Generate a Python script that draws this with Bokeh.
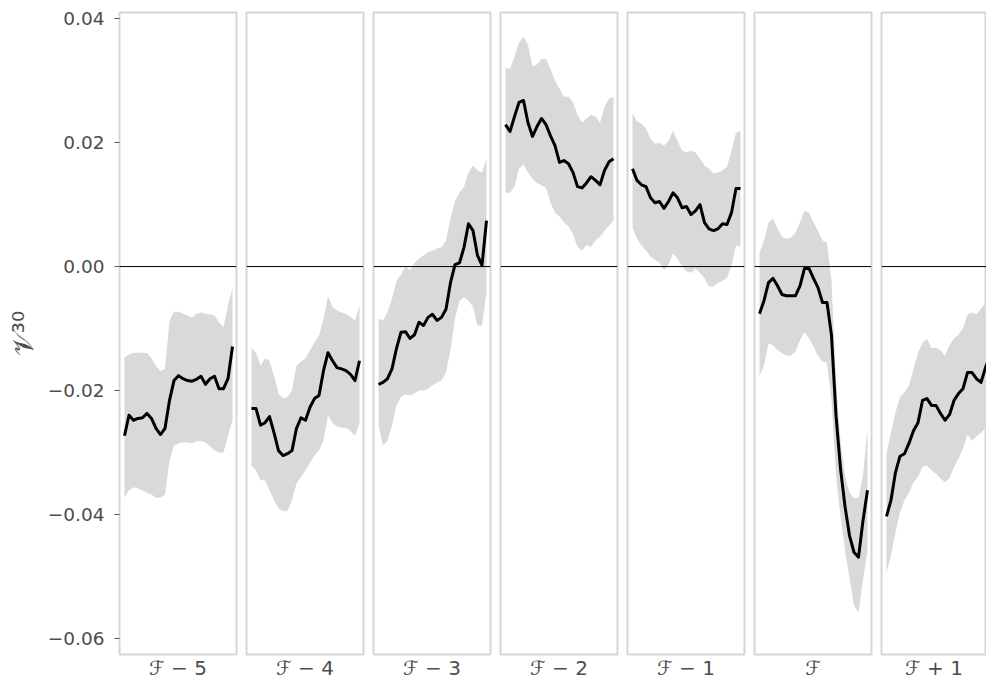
from bokeh.plotting import figure
from bokeh.layouts import row
from bokeh.models import Span, FixedTicker, CustomJSTickFormatter, Range1d
from bokeh.embed import file_html
from bokeh.resources import INLINE

panel_labels = ["ℱ − 5", "ℱ − 4", "ℱ − 3", "ℱ − 2", "ℱ − 1", "ℱ", "ℱ + 1"]
y_ticks = [-0.06, -0.04, -0.02, 0.0, 0.02, 0.04]
y_label = "𝒱³⁰"

# panel F-5
mean_f5 = [-0.0273, -0.0240, -0.0248, -0.0245, -0.0244, -0.0237, -0.0245, -0.0261, -0.0271, -0.0261, -0.0216, -0.0184, -0.0176,
           -0.0181, -0.0184, -0.0185, -0.0182, -0.0177, -0.0190, -0.0181, -0.0177, -0.0197, -0.0197, -0.0181, -0.0129]
upper_f5 = [-0.0147, -0.0142, -0.0139, -0.0139, -0.0139, -0.0140, -0.0148, -0.0160, -0.0169, -0.0165, -0.0087, -0.0073, -0.0073,
            -0.0076, -0.0079, -0.0082, -0.0076, -0.0074, -0.0076, -0.0077, -0.0079, -0.0090, -0.0098, -0.0063, -0.0034]
lower_f5 = [-0.0373, -0.0361, -0.0356, -0.0358, -0.0361, -0.0365, -0.0368, -0.0373, -0.0373, -0.0368, -0.0313, -0.0289, -0.0285,
            -0.0284, -0.0284, -0.0285, -0.0282, -0.0281, -0.0284, -0.0290, -0.0297, -0.0300, -0.0300, -0.0273, -0.0248]
# panel F-4
mean_f4 = [-0.0229, -0.0229, -0.0256, -0.0252, -0.0242, -0.0268, -0.0297, -0.0305, -0.0302, -0.0297, -0.0261, -0.0244, -0.0248,
           -0.0227, -0.0213, -0.0208, -0.0168, -0.0139, -0.0152, -0.0163, -0.0165, -0.0168, -0.0174, -0.0184, -0.0152]
upper_f4 = [-0.0131, -0.0139, -0.0160, -0.0148, -0.0152, -0.0176, -0.0205, -0.0213, -0.0211, -0.0200, -0.0160, -0.0153, -0.0148,
            -0.0135, -0.0123, -0.0111, -0.0084, -0.0048, -0.0065, -0.0071, -0.0074, -0.0076, -0.0081, -0.0087, -0.0063]
lower_f4 = [-0.0321, -0.0329, -0.0345, -0.0345, -0.0361, -0.0377, -0.0390, -0.0395, -0.0394, -0.0377, -0.0350, -0.0339, -0.0329,
            -0.0316, -0.0305, -0.0297, -0.0281, -0.0240, -0.0252, -0.0258, -0.0260, -0.0260, -0.0265, -0.0273, -0.0253]
# panel F-3
mean_f3 = [-0.0190, -0.0187, -0.0181, -0.0165, -0.0132, -0.0106, -0.0105, -0.0116, -0.0110, -0.0090, -0.0095, -0.0082, -0.0077,
           -0.0087, -0.0082, -0.0069, -0.0026, 0.0003, 0.0006, 0.0031, 0.0069, 0.0058, 0.0018, 0.0002, 0.0074]
upper_f3 = [-0.0084, -0.0087, -0.0074, -0.0052, -0.0023, -0.0013, 0.0000, -0.0006, 0.0006, 0.0013, 0.0018, 0.0023, 0.0026,
            0.0029, 0.0031, 0.0042, 0.0077, 0.0106, 0.0119, 0.0129, 0.0152, 0.0163, 0.0155, 0.0152, 0.0174]
lower_f3 = [-0.0256, -0.0289, -0.0281, -0.0256, -0.0224, -0.0210, -0.0206, -0.0208, -0.0205, -0.0200, -0.0200, -0.0197, -0.0192,
            -0.0187, -0.0184, -0.0171, -0.0135, -0.0084, -0.0055, -0.0050, -0.0055, -0.0065, -0.0095, -0.0095, -0.0042]
# panel F-2
mean_f2 = [0.0229, 0.0218, 0.0242, 0.0265, 0.0268, 0.0232, 0.0210, 0.0226, 0.0239, 0.0229, 0.0211, 0.0195, 0.0168,
           0.0171, 0.0166, 0.0152, 0.0129, 0.0127, 0.0135, 0.0145, 0.0139, 0.0132, 0.0155, 0.0169, 0.0174]
upper_f2 = [0.0321, 0.0319, 0.0339, 0.0361, 0.0371, 0.0358, 0.0323, 0.0326, 0.0335, 0.0335, 0.0319, 0.0300, 0.0287,
            0.0274, 0.0274, 0.0265, 0.0245, 0.0232, 0.0239, 0.0245, 0.0242, 0.0232, 0.0258, 0.0271, 0.0274]
lower_f2 = [0.0119, 0.0119, 0.0129, 0.0158, 0.0165, 0.0152, 0.0142, 0.0135, 0.0131, 0.0127, 0.0103, 0.0087, 0.0081,
            0.0071, 0.0065, 0.0052, 0.0032, 0.0026, 0.0035, 0.0032, 0.0042, 0.0048, 0.0058, 0.0066, 0.0074]
# panel F-1
mean_f1 = [0.0158, 0.0139, 0.0132, 0.0129, 0.0111, 0.0103, 0.0105, 0.0094, 0.0105, 0.0119, 0.0111, 0.0095, 0.0097,
           0.0084, 0.0090, 0.0100, 0.0071, 0.0061, 0.0058, 0.0061, 0.0069, 0.0068, 0.0087, 0.0126, 0.0126]
upper_f1 = [0.0248, 0.0234, 0.0231, 0.0223, 0.0206, 0.0198, 0.0200, 0.0195, 0.0203, 0.0219, 0.0203, 0.0187, 0.0184,
            0.0187, 0.0184, 0.0174, 0.0163, 0.0158, 0.0150, 0.0152, 0.0155, 0.0161, 0.0187, 0.0216, 0.0219]
lower_f1 = [0.0063, 0.0045, 0.0034, 0.0026, 0.0016, 0.0011, 0.0006, -0.0006, 0.0003, 0.0021, 0.0013, 0.0000, -0.0008,
            -0.0010, -0.0003, -0.0010, -0.0019, -0.0032, -0.0032, -0.0026, -0.0023, -0.0018, 0.0002, 0.0034, 0.0032]
# panel F
mean_f0 = [-0.0076, -0.0055, -0.0026, -0.0019, -0.0031, -0.0045, -0.0047, -0.0047, -0.0047, -0.0031, -0.0003, -0.0003, -0.0019,
           -0.0034, -0.0058, -0.0058, -0.0111, -0.0240, -0.0326, -0.0387, -0.0434, -0.0461, -0.0469, -0.0410, -0.0361]
upper_f0 = [0.0021, 0.0042, 0.0071, 0.0077, 0.0061, 0.0048, 0.0045, 0.0047, 0.0055, 0.0071, 0.0090, 0.0087, 0.0071,
            0.0058, 0.0042, 0.0039, -0.0023, -0.0184, -0.0281, -0.0337, -0.0365, -0.0374, -0.0373, -0.0337, -0.0260]
lower_f0 = [-0.0176, -0.0160, -0.0124, -0.0127, -0.0135, -0.0140, -0.0144, -0.0144, -0.0137, -0.0119, -0.0106, -0.0116, -0.0129,
            -0.0144, -0.0153, -0.0155, -0.0216, -0.0337, -0.0402, -0.0458, -0.0503, -0.0547, -0.0558, -0.0506, -0.0458]
# panel F+1
mean_p1 = [-0.0403, -0.0377, -0.0332, -0.0306, -0.0302, -0.0285, -0.0265, -0.0252, -0.0216, -0.0213, -0.0224, -0.0224,
           -0.0237, -0.0248, -0.0239, -0.0216, -0.0205, -0.0197, -0.0171, -0.0171, -0.0181, -0.0187, -0.0163, -0.0144]
upper_p1 = [-0.0302, -0.0268, -0.0235, -0.0211, -0.0203, -0.0192, -0.0165, -0.0139, -0.0123, -0.0116, -0.0132, -0.0131,
            -0.0135, -0.0144, -0.0127, -0.0116, -0.0110, -0.0100, -0.0077, -0.0074, -0.0077, -0.0068, -0.0058, -0.0048]
lower_p1 = [-0.0495, -0.0466, -0.0429, -0.0397, -0.0377, -0.0365, -0.0348, -0.0339, -0.0323, -0.0321, -0.0329, -0.0334,
            -0.0342, -0.0348, -0.0342, -0.0323, -0.0310, -0.0294, -0.0271, -0.0281, -0.0274, -0.0268, -0.0260, -0.0252]

panels = [
    (mean_f5, upper_f5, lower_f5),
    (mean_f4, upper_f4, lower_f4),
    (mean_f3, upper_f3, lower_f3),
    (mean_f2, upper_f2, lower_f2),
    (mean_f1, upper_f1, lower_f1),
    (mean_f0, upper_f0, lower_f0),
    (mean_p1, upper_p1, lower_p1),
]

FONT = "DejaVu Sans"
TXT = "#4d4d4d"
figs = []
n = len(panels)
for i, ((m, up, lo), lab) in enumerate(zip(panels, panel_labels)):
    first = i == 0
    last = i == n - 1
    fw = 105 if last else 117
    x0 = -1.11
    x1 = x0 + fw / 4.5
    p = figure(
        frame_width=fw, frame_height=642,
        x_range=Range1d(x0, x1), y_range=Range1d(-0.0626, 0.0410),
        output_backend="svg", toolbar_location=None,
        y_axis_location="left" if first else None,
        min_border_left=119 if first else 5,
        min_border_right=0 if last else 5,
        min_border_top=12, min_border_bottom=24,
        background_fill_color="white", border_fill_color="white",
        outline_line_color="#d6d6d6", outline_line_width=2,
    )
    p.xgrid.visible = False
    p.ygrid.visible = False
    xs = list(range(len(m)))
    p.varea(x=xs, y1=lo, y2=up, fill_color="#d9d9d9", fill_alpha=1.0)
    p.add_layout(Span(location=0, dimension="width", line_color="black", line_width=1))
    p.line(xs, m, line_color="black", line_width=3, line_join="round")

    xa = p.xaxis[0]
    xa.ticker = FixedTicker(ticks=[(x0 + x1) / 2])
    xa.formatter = CustomJSTickFormatter(args=dict(lbl=lab), code="return lbl;")
    xa.axis_line_color = None
    xa.major_tick_line_color = None
    xa.major_tick_out = 0
    xa.major_tick_in = 0
    xa.minor_tick_line_color = None
    xa.major_label_standoff = 1
    xa.major_label_text_font = FONT
    xa.major_label_text_font_size = "20px"
    xa.major_label_text_color = TXT

    if first:
        ya = p.yaxis[0]
        ya.ticker = FixedTicker(ticks=y_ticks)
        ya.formatter = CustomJSTickFormatter(
            code="var s = Math.abs(tick).toFixed(2); return (tick < -1e-9 ? '\u2212' : '') + s;")
        ya.axis_line_color = None
        ya.major_tick_out = 5
        ya.major_tick_in = 0
        ya.major_tick_line_color = "#555555"
        ya.minor_tick_line_color = None
        ya.major_label_standoff = 10
        ya.major_label_text_font = FONT
        ya.major_label_text_font_size = "18.5px"
        ya.major_label_text_color = TXT
        ya.axis_label = y_label
        ya.axis_label_text_font = FONT
        ya.axis_label_text_font_size = "28px"
        ya.axis_label_text_font_style = "normal"
        ya.axis_label_text_color = TXT
        ya.axis_label_standoff = 5
    figs.append(p)

layout = row(*figs, spacing=0)
open("out.html", "w").write(file_html(layout, INLINE))
